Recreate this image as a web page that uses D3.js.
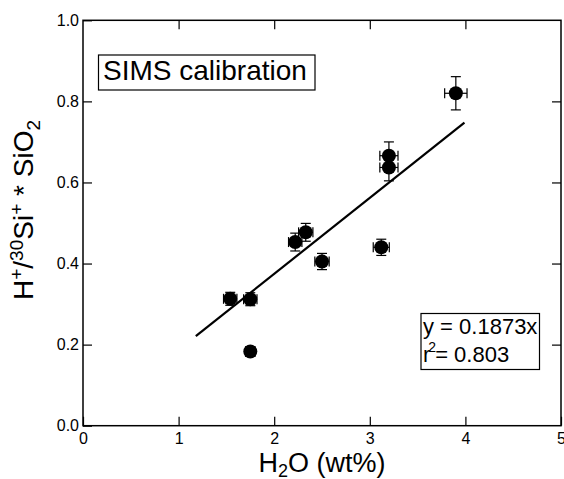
<!DOCTYPE html>
<html>
<head>
<meta charset="utf-8">
<script src="https://cdn.jsdelivr.net/npm/d3@7"></script>
<style>
  body { margin: 0; background: #fff; }
  svg { font-family: "Liberation Sans", Arial, Helvetica, sans-serif; }
</style>
</head>
<body>
<div id="chart"></div>
<script>
// data
const h2o   = [3.90, 3.20, 3.20, 3.12, 2.50, 2.33, 2.22, 1.75, 1.54, 1.75];
const ratio = [0.820, 0.666, 0.637, 0.440, 0.405, 0.477, 0.453, 0.312, 0.313, 0.183];
const xErr  = [0.117, 0.095, 0.095, 0.084, 0.075, 0.075, 0.07, 0.07, 0.07, 0.05];
const yErr  = [0.041, 0.034, 0.033, 0.020, 0.020, 0.022, 0.022, 0.016, 0.016, 0.012];
const slope = 0.1873;
const fitRange = [1.18, 3.99];
const xTicks = [0, 1, 2, 3, 4, 5];
const yTicks = [0, 0.2, 0.4, 0.6, 0.8, 1.0];

const width = 564, height = 479;
const mLeft = 83, mRight = 561, mTop = 20.3, mBottom = 425.7;

const svg = d3.select("#chart").append("svg")
    .attr("width", width)
    .attr("height", height);

const x = d3.scaleLinear().domain([0, 5]).range([mLeft, mRight]);
const y = d3.scaleLinear().domain([0, 1]).range([mBottom, mTop]);

// axes, ticks pointing inwards
const tick = 9;
svg.append("g")
    .attr("transform", `translate(0,${mBottom})`)
    .call(d3.axisBottom(x).tickValues(xTicks).tickSize(-tick).tickSizeOuter(0).tickPadding(7).tickFormat(d3.format("d")))
    .call(g => g.select(".domain").remove())
    .call(g => g.selectAll("text").attr("font-size", 16).attr("fill", "#000"));

svg.append("g")
    .attr("transform", `translate(${mLeft},0)`)
    .call(d3.axisLeft(y).tickValues(yTicks).tickSize(-tick).tickSizeOuter(0).tickPadding(4).tickFormat(d3.format(".1f")))
    .call(g => g.select(".domain").remove())
    .call(g => g.selectAll("text").attr("font-size", 16).attr("fill", "#000"));

svg.append("g")
    .attr("transform", `translate(0,${mTop})`)
    .call(d3.axisTop(x).tickValues(xTicks.slice(1, -1)).tickSize(-tick).tickSizeOuter(0).tickFormat(""))
    .call(g => g.select(".domain").remove());

svg.append("g")
    .attr("transform", `translate(${mRight},0)`)
    .call(d3.axisRight(y).tickValues(yTicks.slice(1, -1)).tickSize(-tick).tickSizeOuter(0).tickFormat(""))
    .call(g => g.select(".domain").remove());

svg.selectAll(".tick line").attr("stroke", "#000").attr("stroke-width", 1.2);

// plot frame
svg.append("rect")
    .attr("x", mLeft).attr("y", mTop)
    .attr("width", mRight - mLeft).attr("height", mBottom - mTop)
    .attr("fill", "none").attr("stroke", "#000").attr("stroke-width", 1.5);

// regression line
svg.append("line")
    .attr("x1", x(fitRange[0])).attr("y1", y(slope * fitRange[0]))
    .attr("x2", x(fitRange[1])).attr("y2", y(slope * fitRange[1]))
    .attr("stroke", "#000").attr("stroke-width", 2.2);

// error bars
const pts = h2o.map((v, i) => ({ x: v, y: ratio[i], ex: xErr[i], ey: yErr[i] }));
const cap = 5;
const eb = svg.append("g").attr("stroke", "#000").attr("stroke-width", 1.2);
pts.forEach(d => {
    const cx = x(d.x), cy = y(d.y);
    const x0 = x(d.x - d.ex), x1 = x(d.x + d.ex);
    const y0 = y(d.y - d.ey), y1 = y(d.y + d.ey);
    eb.append("line").attr("x1", x0).attr("x2", x1).attr("y1", cy).attr("y2", cy);
    eb.append("line").attr("x1", cx).attr("x2", cx).attr("y1", y0).attr("y2", y1);
    eb.append("line").attr("x1", x0).attr("x2", x0).attr("y1", cy - cap).attr("y2", cy + cap);
    eb.append("line").attr("x1", x1).attr("x2", x1).attr("y1", cy - cap).attr("y2", cy + cap);
    eb.append("line").attr("x1", cx - cap).attr("x2", cx + cap).attr("y1", y0).attr("y2", y0);
    eb.append("line").attr("x1", cx - cap).attr("x2", cx + cap).attr("y1", y1).attr("y2", y1);
});

// markers
svg.append("g").selectAll("circle")
    .data(pts)
    .join("circle")
    .attr("cx", d => x(d.x))
    .attr("cy", d => y(d.y))
    .attr("r", 7)
    .attr("fill", "#000");

// title box
svg.append("rect")
    .attr("x", 98.5).attr("y", 55).attr("width", 216.5).attr("height", 35)
    .attr("fill", "#fff").attr("stroke", "#000").attr("stroke-width", 1.2);
svg.append("text")
    .attr("x", 103).attr("y", 80)
    .attr("font-size", 28)
    .text("SIMS calibration");

// equation box
svg.append("rect")
    .attr("x", 421).attr("y", 313.5).attr("width", 118.5).attr("height", 56)
    .attr("fill", "#fff").attr("stroke", "#000").attr("stroke-width", 1.2);
svg.append("text")
    .attr("x", 423).attr("y", 334)
    .attr("font-size", 22)
    .text(`y = ${slope}x`);
const r2 = svg.append("text")
    .attr("x", 423).attr("y", 362)
    .attr("font-size", 22);
r2.append("tspan").text("r");
r2.append("tspan").attr("font-size", 14).attr("dx", -2).attr("dy", -10).text("2");
r2.append("tspan").attr("dx", -1).attr("dy", 10).text("= 0.803");

// x axis title
const xt = svg.append("text")
    .attr("x", (mLeft + mRight) / 2).attr("y", 472)
    .attr("text-anchor", "middle")
    .attr("font-size", 27);
xt.append("tspan").text("H");
xt.append("tspan").attr("font-size", 18).attr("dy", 5).text("2");
xt.append("tspan").attr("dy", -5).text("O (wt%)");

// y axis title
const yt = svg.append("text")
    .attr("transform", `translate(33,210) rotate(-90)`)
    .attr("text-anchor", "middle")
    .attr("font-size", 28);
yt.append("tspan").text("H");
yt.append("tspan").attr("font-size", 19).attr("dy", -10).text("+");
yt.append("tspan").attr("dy", 10).text("/");
yt.append("tspan").attr("font-size", 19).attr("dy", -10).text("30");
yt.append("tspan").attr("dy", 10).text("Si");
yt.append("tspan").attr("font-size", 19).attr("dy", -10).text("+");
yt.append("tspan").attr("dy", 10).text(" * SiO");
yt.append("tspan").attr("font-size", 19).attr("dy", 7).text("2");
</script>
</body>
</html>
